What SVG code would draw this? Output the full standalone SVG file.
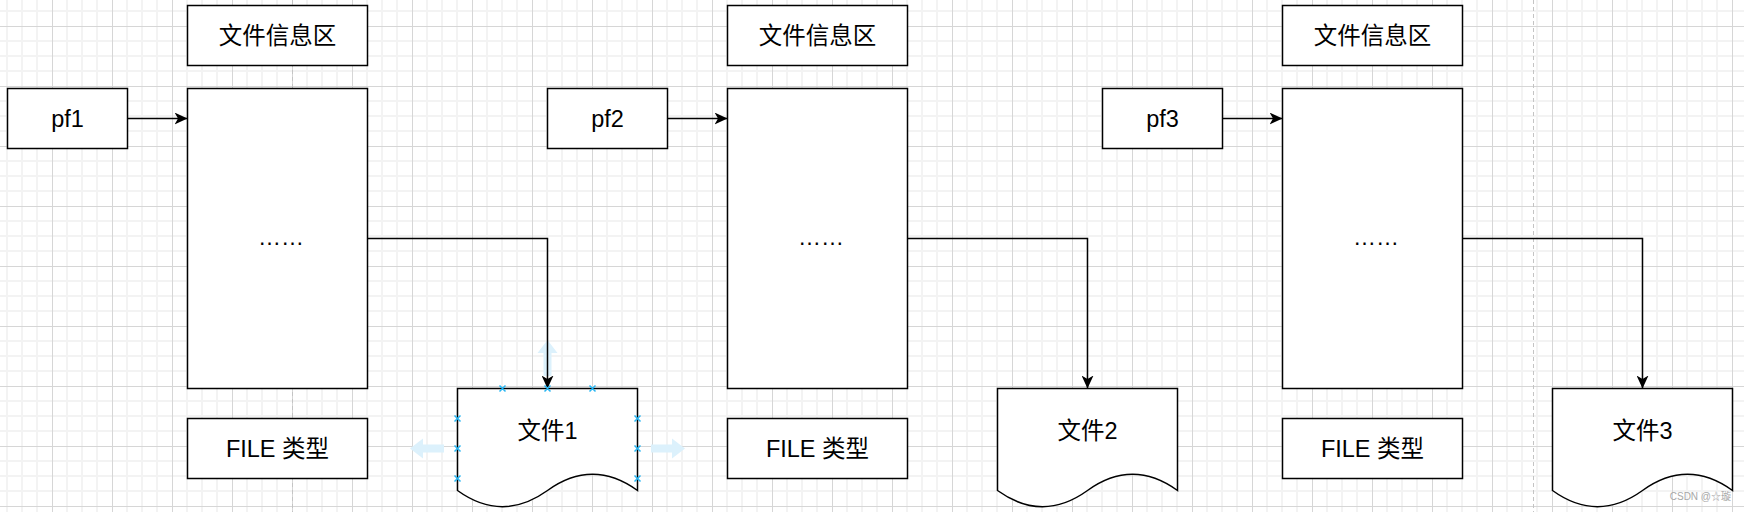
<svg xmlns="http://www.w3.org/2000/svg" width="1744" height="512" viewBox="0 0 1744 512">
<style>
.box{fill:#ffffff;stroke:#000000;stroke-width:1.5}
.lbl{font-family:"Liberation Sans","Noto Sans CJK SC",sans-serif;font-size:23.5px;fill:#000000;text-anchor:middle}
.dots{font-family:"Liberation Sans",sans-serif;font-size:23px;fill:#000000;text-anchor:middle}
.edge{fill:none;stroke:#000000;stroke-width:1.5}
.pt{stroke:#29b6f2;stroke-width:1.5;fill:none}
.hint{fill:#dcf1fc}
.wm{font-family:"Liberation Sans","Noto Sans CJK SC",sans-serif;font-size:10px;fill:#a8a8a8;text-anchor:end}
</style>
<defs>
<pattern id="grid" patternUnits="userSpaceOnUse" x="52" y="26" width="60" height="60">
<rect x="0" y="0" width="60" height="60" fill="#ffffff"/>
<rect x="14" y="0" width="2" height="60" fill="#f3f3f3"/>
<rect x="29" y="0" width="2" height="60" fill="#f3f3f3"/>
<rect x="44" y="0" width="2" height="60" fill="#f3f3f3"/>
<rect x="0" y="14" width="60" height="2" fill="#f3f3f3"/>
<rect x="0" y="29" width="60" height="2" fill="#f3f3f3"/>
<rect x="0" y="44" width="60" height="2" fill="#f3f3f3"/>
<rect x="0" y="0" width="1" height="60" fill="#d6d6d6"/>
<rect x="0" y="0" width="60" height="1" fill="#d6d6d6"/>
</pattern>
<marker id="arr" markerUnits="userSpaceOnUse" markerWidth="14" markerHeight="12" refX="13" refY="6" orient="auto" viewBox="0 0 14 12">
<path d="M0,0 L13,6 L0,12 L3.5,6 Z" fill="#000000"/>
</marker>
</defs>
<rect x="0" y="0" width="1744" height="512" fill="url(#grid)"/>
<g id="page-breaks" stroke="#c4c4c4" stroke-width="1" stroke-dasharray="4 3">
<line x1="292.5" y1="0" x2="292.5" y2="512"/>
<line x1="1533.5" y1="0" x2="1533.5" y2="512"/>
</g>
<g id="hover-hints">
<polygon class="hint" points="547.5,340 557.5,353 551.5,353 551.5,376 543.5,376 543.5,353 537.5,353"/>
<polygon class="hint" points="410,448.5 423,438.5 423,444.5 444,444.5 444,452.5 423,452.5 423,458.5"/>
<polygon class="hint" points="685,448.5 672,438.5 672,444.5 651,444.5 651,452.5 672,452.5 672,458.5"/>
</g>
<g id="col1">
<g id="info1"><rect class="box" x="187.5" y="5.5" width="180" height="60"/><text class="lbl" x="277.5" y="44">文件信息区</text></g>
<g id="pf1"><rect class="box" x="7.5" y="88.5" width="120" height="60"/><text class="lbl" x="67.5" y="127">pf1</text></g>
<g id="body1"><rect class="box" x="187.5" y="88.5" width="180" height="300"/><text class="dots" x="281" y="245">……</text></g>
<g id="type1"><rect class="box" x="187.5" y="418.5" width="180" height="60"/><text class="lbl" x="277.5" y="456.5">FILE 类型</text></g>
<g id="file1"><path class="box" d="M457.5,388.5 L637.5,388.5 L637.5,490.5 Q592.5,458.1 547.5,490.5 Q502.5,522.9 457.5,490.5 Z"/><text class="lbl" x="547.5" y="438.5">文件1</text></g>
</g>
<g id="col2" transform="translate(540,0)">
<g id="info2"><rect class="box" x="187.5" y="5.5" width="180" height="60"/><text class="lbl" x="277.5" y="44">文件信息区</text></g>
<g id="pf2"><rect class="box" x="7.5" y="88.5" width="120" height="60"/><text class="lbl" x="67.5" y="127">pf2</text></g>
<g id="body2"><rect class="box" x="187.5" y="88.5" width="180" height="300"/><text class="dots" x="281" y="245">……</text></g>
<g id="type2"><rect class="box" x="187.5" y="418.5" width="180" height="60"/><text class="lbl" x="277.5" y="456.5">FILE 类型</text></g>
<g id="file2"><path class="box" d="M457.5,388.5 L637.5,388.5 L637.5,490.5 Q592.5,458.1 547.5,490.5 Q502.5,522.9 457.5,490.5 Z"/><text class="lbl" x="547.5" y="438.5">文件2</text></g>
</g>
<g id="col3" transform="translate(1095,0)">
<g id="info3"><rect class="box" x="187.5" y="5.5" width="180" height="60"/><text class="lbl" x="277.5" y="44">文件信息区</text></g>
<g id="pf3"><rect class="box" x="7.5" y="88.5" width="120" height="60"/><text class="lbl" x="67.5" y="127">pf3</text></g>
<g id="body3"><rect class="box" x="187.5" y="88.5" width="180" height="300"/><text class="dots" x="281" y="245">……</text></g>
<g id="type3"><rect class="box" x="187.5" y="418.5" width="180" height="60"/><text class="lbl" x="277.5" y="456.5">FILE 类型</text></g>
<g id="file3"><path class="box" d="M457.5,388.5 L637.5,388.5 L637.5,490.5 Q592.5,458.1 547.5,490.5 Q502.5,522.9 457.5,490.5 Z"/><text class="lbl" x="547.5" y="438.5">文件3</text></g>
</g>
<g id="connectors">
<path class="edge" d="M127.5,118.5 H187.5" marker-end="url(#arr)"/>
<path class="edge" d="M367.5,238.5 H547.5 V388.5" marker-end="url(#arr)"/>
<path class="edge" d="M667.5,118.5 H727.5" marker-end="url(#arr)"/>
<path class="edge" d="M907.5,238.5 H1087.5 V388.5" marker-end="url(#arr)"/>
<path class="edge" d="M1222.5,118.5 H1282.5" marker-end="url(#arr)"/>
<path class="edge" d="M1462.5,238.5 H1642.5 V388.5" marker-end="url(#arr)"/>
</g>
<g id="connection-points" class="pt">
<path d="M499.5,385.5 l6,6 m0,-6 l-6,6 M544.5,385.5 l6,6 m0,-6 l-6,6 M589.5,385.5 l6,6 m0,-6 l-6,6"/>
<path d="M454.5,415.5 l6,6 m0,-6 l-6,6 M454.5,445.5 l6,6 m0,-6 l-6,6 M454.5,475.5 l6,6 m0,-6 l-6,6"/>
<path d="M634.5,415.5 l6,6 m0,-6 l-6,6 M634.5,445.5 l6,6 m0,-6 l-6,6 M634.5,475.5 l6,6 m0,-6 l-6,6"/>
</g>
<text class="wm" x="1731" y="500">CSDN @☆璇</text>
</svg>
